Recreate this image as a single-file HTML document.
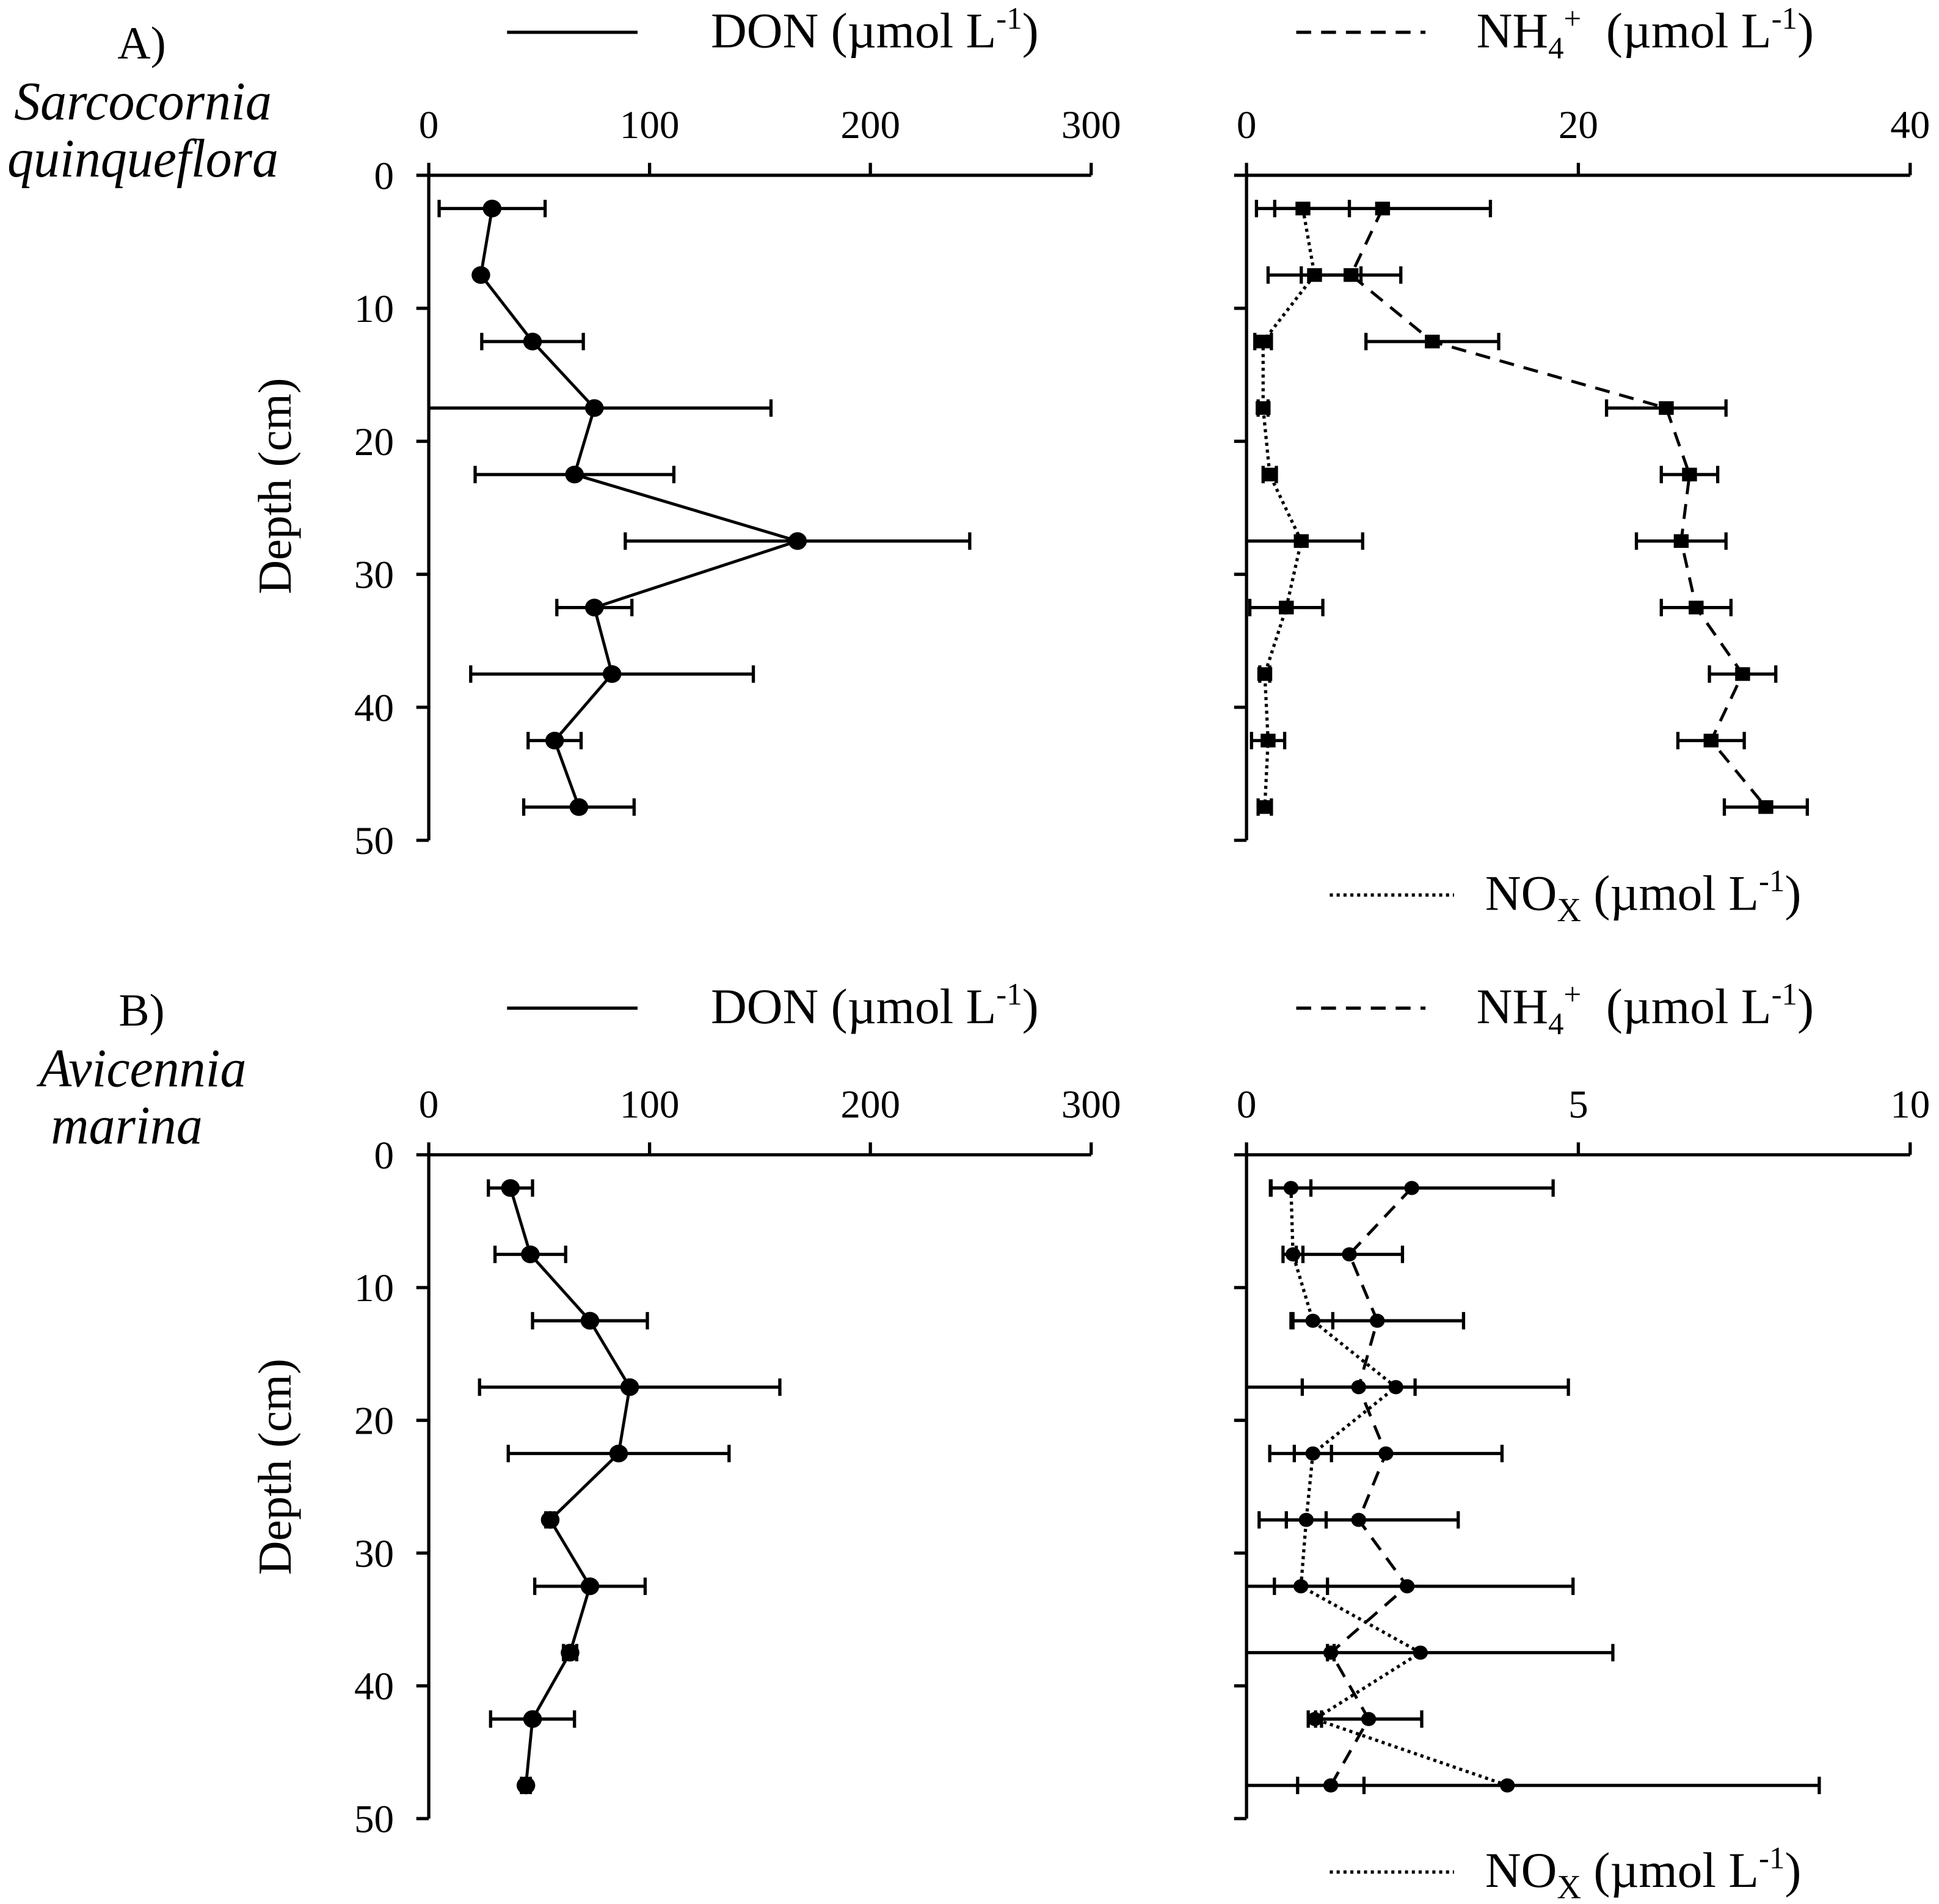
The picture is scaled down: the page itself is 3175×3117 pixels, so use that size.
<!DOCTYPE html>
<html><head><meta charset="utf-8"><style>
html,body{margin:0;padding:0;background:#fff}
svg{display:block}
text{font-family:"Liberation Serif",serif;fill:#000}
</style></head><body>
<svg id="chart" width="3175" height="3117" viewBox="0 0 1560.2 1531.7" xmlns="http://www.w3.org/2000/svg">
<g id="static"></g>
</svg>
<script>
const depths = [2.5,7.5,12.5,17.5,22.5,27.5,32.5,37.5,42.5,47.5];
const yTicks = [0,10,20,30,40,50];
const donTicks = [0,100,200,300];
const nA_Ticks = [0,20,40];
const nB_Ticks = [0,5,10];
// Panel A
const donA = [28.7,23.6,47,75,66,167,75,83,57,68];
const donAErr = [24,0,23,80,45,78,17,64,12,25];
const nh4A = [8.2,6.3,11.2,25.3,26.7,26.2,27.1,29.9,28,31.3];
const nh4AErr = [6.5,3,4,3.6,1.7,2.7,2.1,2,2,2.5];
const noxA = [3.4,4.1,1.0,1.0,1.4,3.3,2.4,1.1,1.3,1.1];
const noxAErr = [2.8,2.8,0.5,0.3,0.4,3.7,2.2,0.3,1,0.4];
// Panel B
const donB = [37,46,73,91,86,55,73,64,47,44];
const donBErr = [10,16,26,68,50,2,25,3,19,2];
const nh4B = [2.49,1.55,1.97,1.69,2.1,1.69,2.42,1.27,1.84,1.27];
const nh4BErr = [2.13,0.8,1.3,0.85,1.75,1.5,2.5,0.05,0.8,0.5];
const noxB = [0.67,0.7,1.0,2.25,1.0,0.9,0.82,2.62,1.03,3.93];
const noxBErr = [0.3,0.15,0.3,2.6,0.28,0.3,0.4,2.9,0.1,4.7];

const NS='http://www.w3.org/2000/svg';
const svg=document.getElementById('chart');
function mk(tag,attrs,parent){const e=document.createElementNS(NS,tag);for(const k in attrs)e.setAttribute(k,attrs[k]);(parent||svg).appendChild(e);return e;}

function panel(cfg){
  const g=mk('g',{});
  
  
  const x=v=>cfg.x0+(v-cfg.min)/(cfg.max-cfg.min)*(cfg.x1-cfg.x0);
  const y=d=>cfg.y0+d/50*(cfg.y1-cfg.y0);
  const ax=mk('path',{d:`M${cfg.x0} ${cfg.y0}H${cfg.x1}M${cfg.x0} ${cfg.y0}V${cfg.y1}`,stroke:'#000','stroke-width':2.6,fill:'none'},g);
  
  
  cfg.xt.forEach(t=>{
    const tk=mk('line',{x1:x(t),x2:x(t),y1:cfg.y0,y2:cfg.y0-10,stroke:'#000','stroke-width':2.6},g);
    
    
    const lb=mk('text',{x:x(t),y:cfg.y0-30,'text-anchor':'middle','font-size':32},g);
    
    
    lb.textContent=t;
  });
  yTicks.forEach(t=>{
    const tk=mk('line',{x1:cfg.x0,x2:cfg.x0-10,y1:y(t),y2:y(t),stroke:'#000','stroke-width':2.6},g);
    
    
    if(cfg.ylabels){
      const lb=mk('text',{x:cfg.x0-28,y:y(t)+11,'text-anchor':'end','font-size':32},g);
      
      
      lb.textContent=t;
    }
  });
  cfg.series.forEach(s=>{
    const pts=s.vals.map((v,i)=>[x(v),y(depths[i])]);
    const ln=mk('polyline',{points:pts.map(p=>p.join(',')).join(' '),fill:'none',stroke:'#000','stroke-width':s.dash==='dot'?2.6:2.4,'stroke-dasharray':s.dash==='dash'?'12,8':(s.dash==='dot'?'2.5,3':'none')},g);
    
    
    s.vals.forEach((v,i)=>{
      const e=s.err[i];
      if(e>0){
        const lo=Math.max(x(v-e),cfg.x0), hi=x(v+e), yy=y(depths[i]);
        let d=`M${lo} ${yy}H${hi}M${hi} ${yy-7}V${yy+7}`;
        if(v-e>cfg.min) d+=`M${lo} ${yy-7}V${yy+7}`;
        const eb=mk('path',{d:d,stroke:'#000','stroke-width':2.6,fill:'none'},g);
        
        
      }
      let m;
      if(s.marker==='sq') m=mk('rect',{x:x(v)-6,y:y(depths[i])-5.5,width:12,height:11,fill:'#000'},g);
      else m=mk('ellipse',{cx:x(v),cy:y(depths[i]),rx:s.r,ry:s.r*0.95,fill:'#000'},g);
      
      
    });
  });
}
panel({name:'panel-a-don',x0:345,x1:878,y0:141,y1:676,min:0,max:300,xt:donTicks,ylabels:true,
  series:[{key:'don',vals:donA,err:donAErr,dash:'none',marker:'c',r:7.5}]});
panel({name:'panel-a-inorganic',x0:1003,x1:1537,y0:141,y1:676,min:0,max:40,xt:nA_Ticks,ylabels:false,
  series:[{key:'nox',vals:noxA,err:noxAErr,dash:'dot',marker:'sq'},{key:'nh4',vals:nh4A,err:nh4AErr,dash:'dash',marker:'sq'}]});
panel({name:'panel-b-don',x0:345,x1:878,y0:929,y1:1463,min:0,max:300,xt:donTicks,ylabels:true,
  series:[{key:'don',vals:donB,err:donBErr,dash:'none',marker:'c',r:7.5}]});
panel({name:'panel-b-inorganic',x0:1003,x1:1537,y0:929,y1:1463,min:0,max:10,xt:nB_Ticks,ylabels:false,
  series:[{key:'nox',vals:noxB,err:noxBErr,dash:'dot',marker:'c',r:6},{key:'nh4',vals:nh4B,err:nh4BErr,dash:'dash',marker:'c',r:6}]});
</script>
<script>
(function(){
const html=`
<text x="114" y="47" text-anchor="middle" font-size="37">A)</text>
<text x="115" y="96" text-anchor="middle" font-size="44" font-style="italic" transform="translate(115 0) scale(0.96 1) translate(-115 0)">Sarcocornia</text>
<text x="115" y="142" text-anchor="middle" font-size="44" font-style="italic" transform="translate(115 0) scale(0.96 1) translate(-115 0)">quinqueflora</text>
<text x="114" y="825" text-anchor="middle" font-size="37">B)</text>
<text x="115" y="874" text-anchor="middle" font-size="44" font-style="italic" transform="translate(115 0) scale(0.96 1) translate(-115 0)">Avicennia</text>
<text x="102" y="920" text-anchor="middle" font-size="44" font-style="italic" transform="translate(102 0) scale(0.96 1) translate(-102 0)">marina</text>
<text transform="translate(234 391) rotate(-90)" text-anchor="middle" font-size="38">Depth (cm)</text>
<text transform="translate(234 1180) rotate(-90)" text-anchor="middle" font-size="38">Depth (cm)</text>
<g><line x1="408" x2="513" y1="26" y2="26" stroke="#000" stroke-width="2.6"/><text x="572" y="38" font-size="40">DON (µmol L<tspan font-size="25" dy="-15">-1</tspan><tspan dy="15">)</tspan></text></g>
<g><line x1="1043" x2="1147" y1="26" y2="26" stroke="#000" stroke-width="2.6" stroke-dasharray="12,8"/><text x="1188" y="38" font-size="40">NH<tspan font-size="25" dy="9">4</tspan><tspan font-size="25" dy="-24">+</tspan><tspan dy="15" xml:space="preserve">  (µmol L</tspan><tspan font-size="25" dy="-15">-1</tspan><tspan dy="15">)</tspan></text></g>
<g><line x1="1070" x2="1170" y1="720" y2="720" stroke="#000" stroke-width="2.6" stroke-dasharray="2.5,3"/><text x="1195" y="732" font-size="40">NO<tspan font-size="27" dy="9">X</tspan><tspan dy="-9"> (µmol L</tspan><tspan font-size="25" dy="-15">-1</tspan><tspan dy="15">)</tspan></text></g>
<g><line x1="408" x2="513" y1="811" y2="811" stroke="#000" stroke-width="2.6"/><text x="572" y="823" font-size="40">DON (µmol L<tspan font-size="25" dy="-15">-1</tspan><tspan dy="15">)</tspan></text></g>
<g><line x1="1043" x2="1147" y1="811" y2="811" stroke="#000" stroke-width="2.6" stroke-dasharray="12,8"/><text x="1188" y="823" font-size="40">NH<tspan font-size="25" dy="9">4</tspan><tspan font-size="25" dy="-24">+</tspan><tspan dy="15" xml:space="preserve">  (µmol L</tspan><tspan font-size="25" dy="-15">-1</tspan><tspan dy="15">)</tspan></text></g>
<g><line x1="1070" x2="1170" y1="1506" y2="1506" stroke="#000" stroke-width="2.6" stroke-dasharray="2.5,3"/><text x="1195" y="1518" font-size="40">NO<tspan font-size="27" dy="9">X</tspan><tspan dy="-9"> (µmol L</tspan><tspan font-size="25" dy="-15">-1</tspan><tspan dy="15">)</tspan></text></g>`;
document.getElementById('static').innerHTML=html;
})();
</script>
</body></html>
